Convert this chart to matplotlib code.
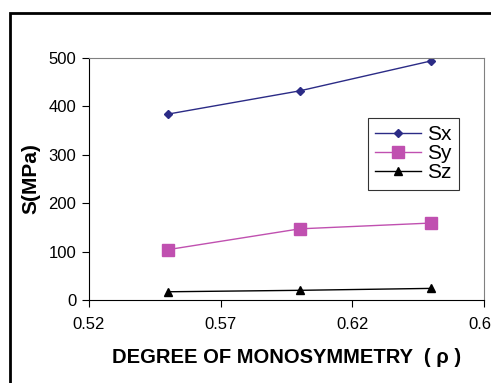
import matplotlib
matplotlib.use("Agg")
import matplotlib.pyplot as plt
from matplotlib.patches import Rectangle

plt.rcParams['font.family'] = ['Liberation Sans', 'DejaVu Sans']

# degree of monosymmetry and stresses (MPa)
rho = [0.55, 0.60, 0.65]
sx = [384, 432, 494]
sy = [104, 147, 159]
sz = [17, 20, 24]

xticks = [0.52, 0.57, 0.62, 0.67]
yticks = [0, 100, 200, 300, 400, 500]

fig = plt.figure(figsize=(4.91, 3.83), dpi=100)
ax = fig.add_axes([0.181, 0.2167, 0.805, 0.632])

ax.plot(rho, sx, color='#2b2b86', marker='D', markersize=4, lw=1, label='Sx')
ax.plot(rho, sy, color='#c050b0', marker='s', markersize=8, lw=1, label='Sy')
ax.plot(rho, sz, color='black', marker='^', markersize=6, lw=1, label='Sz')

ax.set_xlim(0.52, 0.67)
ax.set_ylim(0, 500)
ax.set_xticks(xticks)
ax.set_xticklabels(['0.52', '0.57', '0.62', '0.67'])
ax.set_yticks(yticks)
ax.tick_params(direction='out', length=5, labelsize=12, pad=7)
ax.tick_params(axis='y', pad=4)

for s in ['top', 'right']:
    ax.spines[s].set_color('#808080')
for s in ['left', 'bottom']:
    ax.spines[s].set_color('black')

ax.set_xlabel('DEGREE OF MONOSYMMETRY  ( ρ )', fontsize=14.5, fontweight='bold', labelpad=12)
ax.set_ylabel('S(MPa)', fontsize=15, fontweight='bold', labelpad=6)

leg = ax.legend(loc='upper left', bbox_to_anchor=(0.706, 0.752), borderaxespad=0,
                fontsize=15, frameon=True, fancybox=False, edgecolor='black',
                handlelength=2.2, handletextpad=0.3, labelspacing=0.0, borderpad=0.35)
leg.get_frame().set_linewidth(0.8)

# outer chart border
fig.patches.append(Rectangle((10 / 491, -0.05), 1.1, (383 - 13) / 383 + 0.05,
                             transform=fig.transFigure, fill=False,
                             edgecolor='black', lw=2, clip_on=False))

fig.savefig('out.png', dpi=100)
